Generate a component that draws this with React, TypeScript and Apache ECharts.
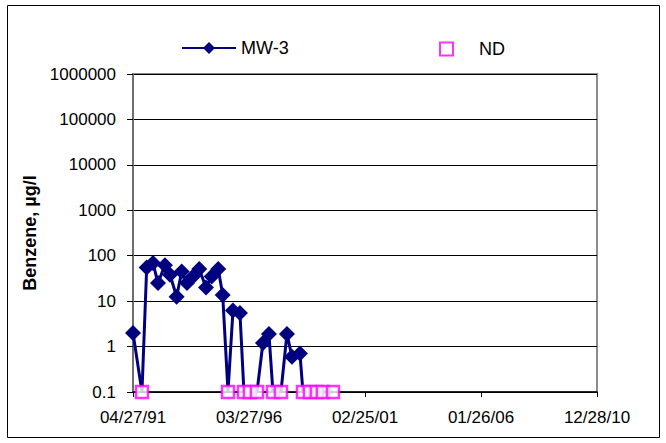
import React, { useEffect, useRef } from "react";
import * as echarts from "echarts";

const detectDates = [
  "1991-04-27", "1991-11-25", "1992-03-02", "1992-05-18", "1992-09-03", "1992-11-20",
  "1993-03-03", "1993-05-20", "1993-08-10", "1993-11-11", "1994-02-16", "1994-05-31",
  "1994-08-27", "1994-12-07", "1995-02-14", "1995-07-23", "1995-11-08", "1996-10-29",
  "1997-01-30", "1997-11-05", "1998-01-21", "1998-05-25",
];
const detectValues = [2, 55, 69, 25, 62, 38, 12.5, 45, 25, 35, 51, 20, 35, 51, 13.6, 6.2, 5.5, 1.2, 1.9, 1.9, 0.6, 0.7];
const ndDates = [
  "1991-09-13", "1995-05-07", "1996-01-09", "1996-04-11", "1996-07-29", "1997-04-02",
  "1997-08-04", "1998-07-11", "1998-10-27", "1999-02-12", "1999-05-16", "1999-10-18",
];
const ndValue = 0.1;
const xTickCount = 4;
const xSpanDays = 7185;

const START = Date.UTC(1991, 3, 27);
const toDays = (s: string) => (Date.parse(s + "T00:00:00Z") - START) / 86400000;
const pad = (n: number) => (n < 10 ? "0" + n : "" + n);
const fmtDate = (v: number) => {
  const d = new Date(START + Math.floor(v + 1e-6) * 86400000);
  return pad(d.getUTCMonth() + 1) + "/" + pad(d.getUTCDate()) + "/" + pad(d.getUTCFullYear() % 100);
};

export default function App() {
  const ref = useRef<HTMLDivElement>(null);
  useEffect(() => {
    if (!ref.current) return;
    const chart = echarts.init(ref.current, null, { renderer: "svg" });
    const lineData: any[] = [];
    detectDates.forEach((d, i) => lineData.push({ value: [toDays(d), detectValues[i]] }));
    ndDates.forEach((d) => lineData.push({ value: [toDays(d), ndValue], symbol: "none" }));
    lineData.sort((a, b) => a.value[0] - b.value[0]);
    const ndData = ndDates.map((d) => [toDays(d), ndValue]);
    const font = "Liberation Sans, Arial, sans-serif";
    chart.setOption({
      animation: false,
      backgroundColor: "#fff",
      textStyle: { fontFamily: font },
      graphic: [
        {
          type: "rect",
          shape: { x: 7.5, y: 5.5, width: 652, height: 432 },
          style: { fill: "none", stroke: "#000", lineWidth: 1 },
          silent: true,
          z: -10,
        },
      ],
      legend: [
        {
          data: ["MW-3"],
          left: 181,
          top: 39,
          padding: 0,
          itemWidth: 54,
          itemHeight: 15,
          itemGap: 0,
          textStyle: { fontSize: 18, color: "#000", fontFamily: font },
        },
        {
          data: ["ND"],
          left: 439,
          top: 40,
          padding: 0,
          itemWidth: 13,
          itemHeight: 13,
          textStyle: { fontSize: 18, color: "#000", fontFamily: font, padding: [0, 0, 0, 21] },
        },
      ],
      grid: {
        left: 133,
        right: 69,
        top: 74,
        bottom: 51,
        show: true,
        borderColor: "#8c8c8c",
        borderWidth: 2,
        backgroundColor: "#fff",
      },
      xAxis: {
        type: "value",
        min: 0,
        max: xSpanDays,
        interval: xSpanDays / xTickCount,
        splitLine: { show: false },
        axisLine: { show: true, onZero: false, lineStyle: { color: "#000", width: 1.5 } },
        axisTick: { show: true, inside: false, length: 5, lineStyle: { color: "#000" } },
        axisLabel: { formatter: (v: number) => fmtDate(v), fontSize: 17, color: "#000", margin: 17, fontFamily: font },
      },
      yAxis: {
        type: "log",
        logBase: 10,
        min: 0.1,
        max: 1000000,
        name: "Benzene, µg/l",
        nameLocation: "middle",
        nameRotate: 90,
        nameGap: 93,
        nameTextStyle: { fontSize: 18, fontWeight: "bold", color: "#000", fontFamily: font },
        splitLine: { show: true, lineStyle: { color: "#000", width: 1 } },
        axisLine: { show: true, lineStyle: { color: "#6e6e6e", width: 2 } },
        axisTick: { show: true, inside: false, length: 6, lineStyle: { color: "#000" } },
        axisLabel: {
          fontSize: 17,
          color: "#000",
          margin: 17,
          fontFamily: font,
          formatter: (v: number) => (v < 1 ? v.toFixed(1) : String(Math.round(v))),
        },
      },
      series: [
        {
          name: "MW-3",
          type: "line",
          data: lineData,
          symbol: "diamond",
          symbolSize: 16,
          showAllSymbol: true,
          clip: false,
          color: "#000080",
          lineStyle: { color: "#000080", width: 3 },
          itemStyle: { color: "#000080" },
          z: 2,
        },
        {
          name: "ND",
          type: "scatter",
          data: ndData,
          symbol: "rect",
          symbolSize: 12,
          clip: false,
          itemStyle: { color: "#fff", borderColor: "#ff00ff", borderWidth: 2.5 },
          z: 3,
        },
      ],
    });
    return () => chart.dispose();
  }, []);
  return (
    <div
      ref={ref}
      style={{ position: "absolute", left: 0, top: 0, width: 666, height: 443 }}
    />
  );
}
